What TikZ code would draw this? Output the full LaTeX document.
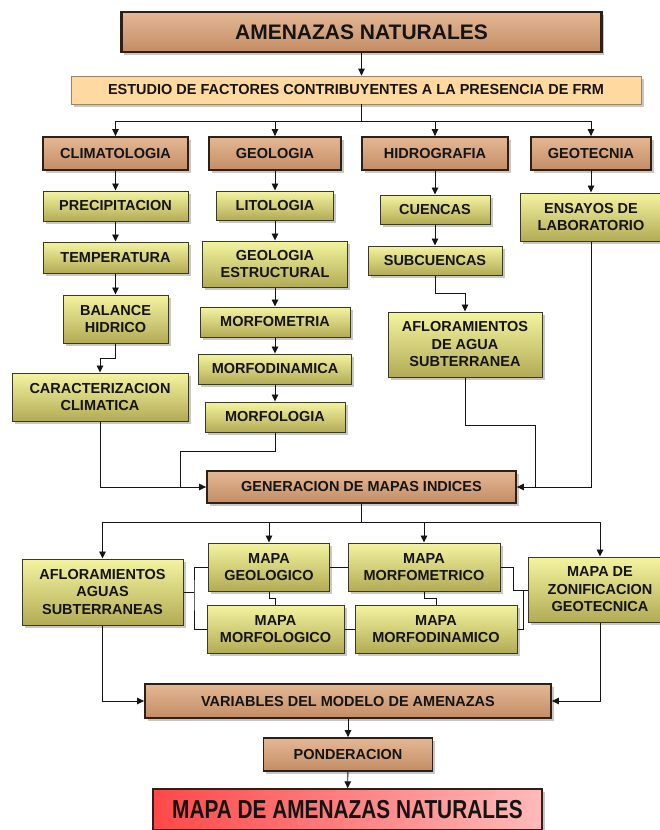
\documentclass[tikz,border=0pt]{standalone}
\usepackage{fontspec}
\setmainfont{Liberation Sans}
\newfontfamily\tallfont[FakeStretch=0.8]{Liberation Sans}
\usetikzlibrary{arrows.meta,shadows}

\definecolor{brownTop}{HTML}{E4B894}
\definecolor{brownBot}{HTML}{C38D65}
\definecolor{brownLine}{HTML}{2E2016}
\definecolor{oliveTop}{HTML}{F4F4A0}
\definecolor{oliveBot}{HTML}{B3AB55}
\definecolor{oliveLine}{HTML}{3A3A22}
\definecolor{sandFill}{HTML}{FFD9A0}
\definecolor{sandLine}{HTML}{9A8466}
\definecolor{redLeft}{HTML}{FF4848}
\definecolor{redRight}{HTML}{FFBABA}
\definecolor{linkCol}{HTML}{151515}
\definecolor{txtCol}{HTML}{141414}

\newcommand\labfont{\fontsize{14.5}{17.5}\selectfont\bfseries}

\tikzset{
  boxbase/.style={rectangle, inner sep=0pt, align=center, text=txtCol,
    font=\labfont,
    drop shadow={shadow xshift=2.5pt, shadow yshift=-2.5pt, fill=black, opacity=0.22}},
  brownbox/.style={boxbase, draw=brownLine, line width=1.8pt,
    top color=brownTop, bottom color=brownBot},
  olivebox/.style={boxbase, draw=oliveLine, line width=1pt,
    top color=oliveTop, bottom color=oliveBot},
  sandbox/.style={boxbase, draw=sandLine, line width=0.7pt, fill=sandFill},
  redbox/.style={boxbase, draw=brownLine, line width=1.4pt,
    left color=redLeft, right color=redRight},
  link/.style={draw=linkCol, line width=0.9pt},
  arr/.style={link, -{Triangle[length=7pt,width=6.5pt]}},
  sz/.style n args={2}{minimum width=#1pt, minimum height=#2pt}
}

\begin{document}
\begin{tikzpicture}[x=1pt,y=-1pt]
\useasboundingbox (0,0) rectangle (660,830);
\clip (0,0) rectangle (660,830);
\fill[white] (0,0) rectangle (660,830);

% --- header ---
\node[brownbox, sz={480}{40}, line width=2.2pt, font=\fontsize{21}{25}\selectfont\bfseries]
  (top) at (361.5,32) {AMENAZAS NATURALES};
\node[sandbox, sz={570}{28}] (estudio) at (356,90)
  {ESTUDIO DE FACTORES CONTRIBUYENTES A LA PRESENCIA DE FRM};

% --- four study areas ---
\node[brownbox, sz={145}{33}] (clim)  at (115.5,153.5) {CLIMATOLOGIA};
\node[brownbox, sz={132}{33}] (geol)  at (275,153.5)   {GEOLOGIA};
\node[brownbox, sz={146}{33}] (hidro) at (435,153.5)   {HIDROGRAFIA};
\node[brownbox, sz={120}{33}] (geot)  at (591,153.5)   {GEOTECNIA};

% climate column
\node[olivebox, sz={145}{30}] (precip) at (115.5,206)   {PRECIPITACION};
\node[olivebox, sz={145}{31}] (temp)   at (115.5,257.5) {TEMPERATURA};
\node[olivebox, sz={105}{48}] (balance) at (115.5,319)  {BALANCE\\HIDRICO};
\node[olivebox, sz={176}{48}] (caract) at (100,397)     {CARACTERIZACION\\CLIMATICA};

% geology column
\node[olivebox, sz={117}{29}] (lito)   at (275,205.5) {LITOLOGIA};
\node[olivebox, sz={145}{46}] (geoest) at (275,264)   {GEOLOGIA\\ESTRUCTURAL};
\node[olivebox, sz={150}{30}] (morfom) at (275,322)   {MORFOMETRIA};
\node[olivebox, sz={153}{30}] (morfod) at (275,369)   {MORFODINAMICA};
\node[olivebox, sz={140}{30}] (morfol) at (275,417)   {MORFOLOGIA};

% hydrography column
\node[olivebox, sz={110}{29}] (cuencas) at (435,209.5) {CUENCAS};
\node[olivebox, sz={134}{29}] (subc)    at (435,260.5) {SUBCUENCAS};
\node[olivebox, sz={154}{65}] (aflor)   at (465,344.5) {AFLORAMIENTOS\\DE AGUA\\SUBTERRANEA};

% geotechnics column
\node[olivebox, sz={142}{48}] (ensayos) at (591,217) {ENSAYOS DE\\LABORATORIO};

% --- index maps ---
\node[brownbox, sz={309}{32}] (gen) at (361.5,487) {GENERACION DE MAPAS INDICES};

\node[olivebox, sz={161}{66}] (aguas)   at (102.5,592) {AFLORAMIENTOS\\AGUAS\\SUBTERRANEAS};
\node[olivebox, sz={121}{48}] (mgeo)    at (269,567)   {MAPA\\GEOLOGICO};
\node[olivebox, sz={152}{48}] (mmorfom) at (424,567)   {MAPA\\MORFOMETRICO};
\node[olivebox, sz={137}{48}] (mmorfol) at (275.5,629) {MAPA\\MORFOLOGICO};
\node[olivebox, sz={162}{48}] (mmorfod) at (436,629)   {MAPA\\MORFODINAMICO};
\node[olivebox, sz={144}{65}] (zonif)   at (600,589.5) {MAPA DE\\ZONIFICACION\\GEOTECNICA};

% --- model ---
\node[brownbox, sz={406}{34}] (vars)  at (348,701)   {VARIABLES DEL MODELO DE AMENAZAS};
\node[brownbox, sz={169}{33}] (pond)  at (348,754.5) {PONDERACION};
\node[redbox,   sz={389}{41}, font=\tallfont\fontsize{26}{30}\selectfont\bfseries]
  (final) at (347.5,809.5) {MAPA DE AMENAZAS NATURALES};

% ===== connectors =====
\draw[arr] (top.south) -- (top.south |- estudio.north);

\coordinate (bus1) at (361.5,121);
\draw[link] (top.south |- estudio.south) -- (bus1);
\draw[link] (clim.north |- bus1) -- (geot.north |- bus1);
\foreach \n in {clim,geol,hidro,geot}
  \draw[arr] (\n.north |- bus1) -- (\n.north);

% climate chain
\draw[arr] (clim) -- (precip);
\draw[arr] (precip) -- (temp);
\draw[arr] (temp) -- (balance);
\coordinate (bk) at (115.5,358);
\draw[arr] (balance.south) -- (bk) -| (caract.north);

% geology chain
\draw[arr] (geol) -- (lito);
\draw[arr] (lito) -- (geoest);
\draw[arr] (geoest) -- (morfom);
\draw[arr] (morfom) -- (morfod);
\draw[arr] (morfod) -- (morfol);

% hydrography chain
\draw[arr] (hidro) -- (cuencas);
\draw[arr] (cuencas) -- (subc);
\coordinate (sk) at (435,293);
\draw[arr] (subc.south) -- (sk) -| (aflor.north);

% geotechnics
\draw[arr] (geot.south) -- (geot.south |- ensayos.north);

% into the index map generation
\draw[arr] (caract.south) |- (gen.west);
\coordinate (mk) at (180,451);
\draw[link] (morfol.south) |- (mk) -- (mk |- gen.west);
\coordinate (ak) at (535,425);
\draw[link] (aflor.south) |- (ak) -- (ak |- gen.east);
\draw[arr] (geot.south |- ensayos.south) |- (gen.east);

% distribution to the index maps
\coordinate (bus2) at (361.5,522);
\draw[link] (gen.south) -- (bus2);
\draw[link] (aguas.north |- bus2) -- (zonif.north |- bus2);
\foreach \n in {aguas,mgeo,mmorfom,zonif}
  \draw[arr] (\n.north |- bus2) -- (\n.north);

% links among the maps
\coordinate (lbx) at (194,592);
\draw[link] (aguas.east) -- (lbx);
\draw[link] (mgeo.west) -| (lbx) |- (mmorfol.west);
\draw[link] (mgeo.east) -- (mmorfom.west);
\draw[link] (mmorfol.east) -- (mmorfod.west);
\draw[link] (mgeo.south) -- ++(0,7) -| (mmorfol.north);
\draw[link] (mmorfom.south) -- ++(0,7) -| (mmorfod.north);
\coordinate (rb1) at (513,590);
\coordinate (rb2) at (523,590);
\draw[link] (mmorfom.east) -| (rb1) -- (rb1 -| zonif.west);
\draw[link] (mmorfod.east) -| (rb2);

% model variables, weighting and result
\draw[arr] (aguas.south) |- (vars.west);
\draw[arr] (zonif.south) |- (vars.east);
\draw[arr] (vars) -- (pond);
\draw[arr] (pond) -- (final);
\end{tikzpicture}
\end{document}
